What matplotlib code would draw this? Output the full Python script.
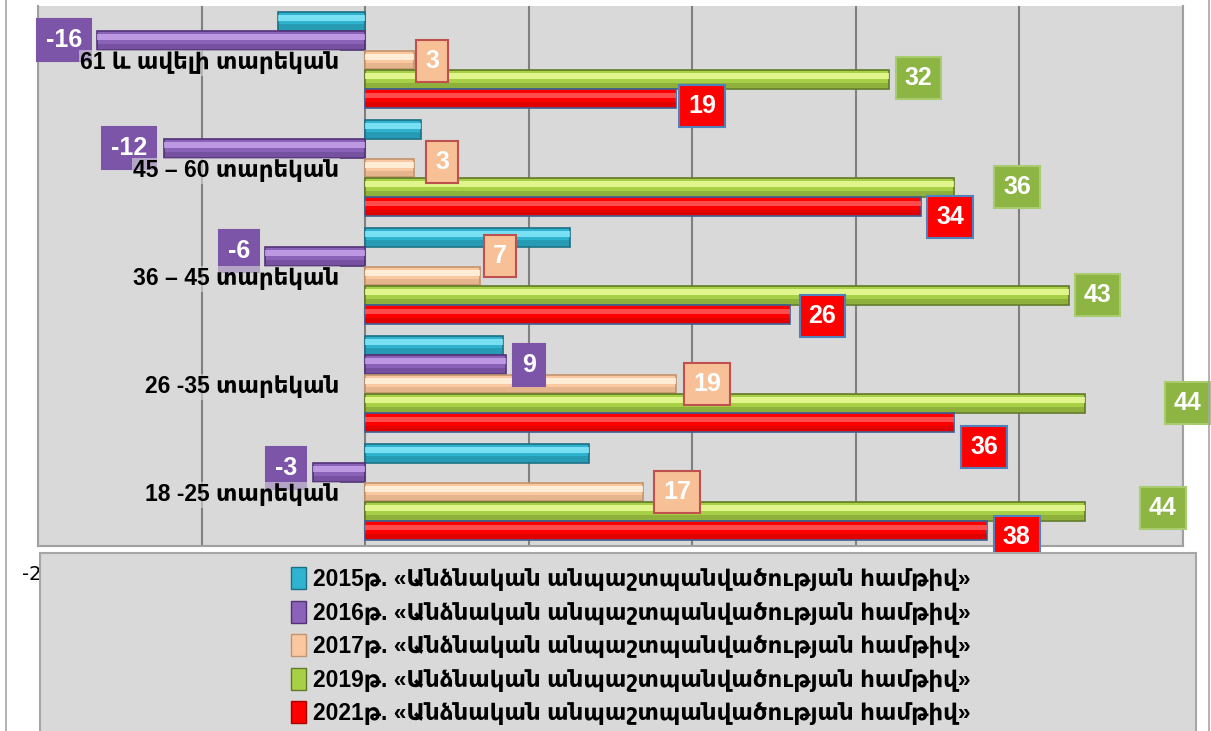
import numpy as np
import matplotlib.pyplot as plt
from matplotlib.patches import Patch, Rectangle
from matplotlib.lines import Line2D
from matplotlib.font_manager import FontProperties

plt.rcParams['axes.unicode_minus'] = False

# Տվյալներ
categories = ['18 -25 տարեկան', '26 -35 տարեկան', '36 – 45 տարեկան',
              '45 – 60 տարեկան', '61 և ավելի տարեկան']
years = ['2015', '2016', '2017', '2019', '2021']
v2015 = [13.7, 8.4, 12.5, 3.4, -5.3]
v2016 = [-3.2, 8.6, -6.1, -12.3, -16.4]
v2017 = [17, 19, 7, 3, 3]
v2019 = [44, 44, 43, 36, 32]
v2021 = [38, 36, 26, 34, 19]
series = [v2015, v2016, v2017, v2019, v2021]
show_labels = [False, True, True, True, True]
legend_suffix = 'թ. «Անձնական անպաշտպանվածության համթիվ»'
xticks = np.arange(-20, 51, 10)

# colors: light, main, dark
colors = [('#8becfb', '#2fb3cf', '#1b6f84'),
          ('#c9a6ef', '#8a62b8', '#523276'),
          ('#fff7e4', '#f9c8a0', '#c4946c'),
          ('#f0ffa0', '#a8d047', '#62792a'),
          ('#ff6060', '#ff0000', '#a80000')]
bar_edges = ['#1b6f84', '#523276', '#c4946c', '#62792a', '#3d5f96']
box_style = [None,
             ('#7d55a8', '#7d55a8'),
             ('#f8c096', '#c0504d'),
             ('#8db543', '#a9cc70'),
             ('#ff0000', '#4f81bd')]
# label nudges in pixels (dx from bar end, dy from bar centre)
nudges = [None,
          [(-27, 5), (23, 0), (-26, 6), (-35, 1), (-33, 1)],
          [(34, 0), (31, 0), (20, 20), (28, 6), (18, -1)],
          [(78, 3), (103, 0), (29, 0), (63, 0), (30, 1)],
          [(30, -6), (30, -24), (32, -1), (29, -10), (26, -7)]]

fams = ['Liberation Sans', 'DejaVu Sans']

W, H = 1211, 731
fig = plt.figure(figsize=(W / 100, H / 100), dpi=100)
ax = fig.add_axes([38 / W, 1 - 546 / H, (1183 - 38) / W, (546 - 6) / H])
ax.set_facecolor('#d9d9d9')

y = np.arange(len(categories))
h = 0.18
offs = [0.36, 0.18, 0.0, -0.18, -0.36]

for i, vals in enumerate(series):
    light, mid, dark = colors[i]
    yy = y + offs[i]
    ax.barh(yy, vals, height=h * 0.97, color=mid, edgecolor=bar_edges[i],
            linewidth=1.2, zorder=3)
    ax.barh(yy + h * 0.17, vals, height=h * 0.3, color=light, alpha=0.8,
            linewidth=0, zorder=3.1)
    ax.barh(yy - h * 0.3, vals, height=h * 0.28, color=dark, alpha=0.35,
            linewidth=0, zorder=3.1)
    if show_labels[i]:
        fc, ec = box_style[i]
        for j, v in enumerate(vals):
            dx, dy = nudges[i][j]
            ax.annotate(f'{round(v):d}', xy=(v, yy[j]), xytext=(dx, dy),
                        textcoords='offset pixels', ha='center', va='center',
                        fontsize=18, fontweight='bold', family=fams,
                        color='white', zorder=5,
                        bbox=dict(boxstyle='square,pad=0.36', fc=fc, ec=ec, lw=1.5))

for j, cat in enumerate(categories):
    ax.annotate(cat, xy=(0, y[j]), xytext=(-26, -3), textcoords='offset pixels',
                ha='right', va='center', fontsize=16.5, fontweight='bold',
                family=fams, zorder=6,
                bbox=dict(boxstyle='square,pad=0.05', fc='#d9d9d9', ec='none', alpha=0.6))

ax.set_xlim(-20, 50)
ax.set_ylim(-0.5, 4.5)
ax.set_xticks(xticks)
# only the leftmost tick label peeks out from under the legend
ax.set_xticklabels([str(t) if t == xticks[0] else '' for t in xticks])
ax.tick_params(axis='x', length=0, pad=14, labelsize=14)
ax.set_yticks([])
ax.grid(axis='x', color='#808080', linewidth=1.5, zorder=1)
ax.set_axisbelow(True)
ax.spines['top'].set_visible(False)
for s in ['left', 'bottom', 'right']:
    ax.spines[s].set_color('#a0a0a0')
    ax.spines[s].set_linewidth(1.5)

# chart border
fig.add_artist(Line2D([6 / W, 6 / W], [0, 1], color='#a6a6a6', lw=1.2))
fig.add_artist(Line2D([1209 / W, 1209 / W], [0, 1], color='#a6a6a6', lw=1.2))

# legend
fig.add_artist(Rectangle((40 / W, -0.05), (1196 - 40) / W, 0.05 + (731 - 553) / H,
                         transform=fig.transFigure, fc='#d9d9d9', ec='#a6a6a6',
                         lw=1.5, zorder=4))
handles = [Patch(facecolor=c[1], edgecolor=c[2]) for c in colors]
labels = [yr + legend_suffix for yr in years]
leg_font = FontProperties(family=fams, weight='bold', size=16.5)
leg = fig.legend(handles, labels, loc='upper left', bbox_to_anchor=(280 / W, 1 - 556 / H),
                 frameon=False, handlelength=0.65, handleheight=1.1, handletextpad=0.3,
                 labelspacing=0.42, borderpad=0, prop=leg_font)
leg.set_zorder(5)

plt.savefig('out.png', dpi=100)
